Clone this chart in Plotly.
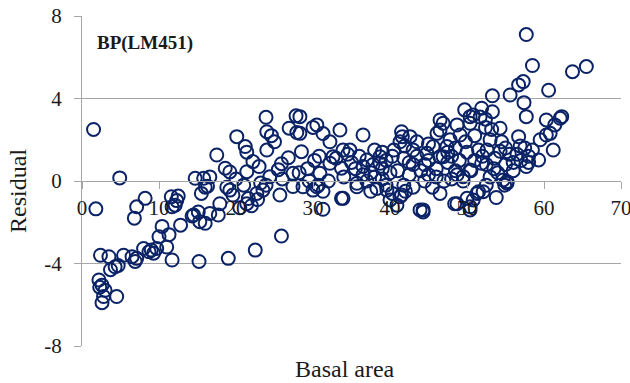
import plotly.graph_objects as go

basal_area = [
    1.5, 4.9, 1.8, 8.2, 7.1, 6.8, 11.6, 12.5, 12.1, 11.7, 12.3, 14.7, 14.3, 15.3, 12.8, 10.4, 10.0, 11.3, 9.7, 11.0,
    11.7, 2.4, 3.5, 5.4, 6.5, 7.1, 8.0, 8.7, 9.3, 4.3, 3.7, 2.2, 2.6, 3.0, 2.3, 2.6, 4.5, 15.2, 19.0, 22.5,
    25.9, 9.0, 6.9, 4.7, 2.8,
    15.8, 16.6, 16.3, 15.5, 16.0, 14.5, 15.1, 16.0, 16.6, 17.7, 17.9, 19.2, 19.6, 21.4, 21.6, 22.7, 22.8, 23.5, 23.9, 25.7,
    27.4, 23.2, 20.5, 22.0, 18.8, 21.0,
    23.9, 27.8, 24.0, 24.6, 26.9, 27.9, 30.0, 20.1, 21.2, 21.4, 22.2, 24.0, 17.5, 18.6, 19.2, 21.4, 28.5, 26.8, 25.9, 25.5,
    24.4, 27.4, 28.2, 29.3, 30.2, 23.0, 20.0, 26.0, 28.7, 25.0,
    30.0, 30.7, 31.3, 33.7, 35.7, 38.3, 40.0, 40.9, 41.5, 44.3, 28.3, 28.3, 30.5, 31.3, 33.5, 36.5, 32.2, 33.9, 34.5, 33.0,
    32.2, 30.8, 30.9, 33.7, 35.5, 37.0, 37.8, 38.7, 39.5, 40.3, 41.6, 41.9, 42.6, 41.5, 41.3, 41.8, 41.0, 40.0, 39.0, 38.0,
    37.0, 35.7, 36.5, 30.5, 31.3, 33.9, 39.6, 40.3, 41.3, 41.8, 43.9, 34.8, 32.6, 38.7, 34.0, 32.0, 29.5, 42.5, 43.0, 43.5,
    44.0, 44.8, 45.6, 44.5, 43.0, 42.0, 39.0, 36.0, 35.0, 38.0, 40.5, 39.5, 37.5, 43.5,
    44.3, 48.4, 50.4, 51.5, 52.1, 51.3, 50.8, 50.0, 50.4, 48.7, 54.9, 55.2, 49.5, 50.5, 48.5, 46.9, 45.0, 46.1, 46.9, 47.8,
    48.5, 50.4, 51.7, 52.4, 53.0, 51.5, 52.5, 54.7, 49.5, 47.0, 46.0, 45.5, 46.5, 49.7, 50.8, 51.9, 53.3, 52.4, 50.4, 46.5,
    46.5, 48.7, 49.1, 54.3, 53.2, 53.3, 55.6, 56.7, 57.3, 57.4, 57.7, 57.7, 58.5, 63.7, 65.5, 60.6, 60.3, 62.3, 61.4, 60.3,
    59.5, 61.2, 59.3, 57.7, 56.7, 56.9, 53.6, 54.3, 55.5, 52.6, 51.9, 50.4, 48.7, 46.5, 47.4, 45.0, 55.2, 56.0, 57.0, 58.5,
    58.0, 55.0, 54.0, 53.0, 56.5, 57.5, 60.8, 62.1, 58.0, 53.8, 52.5, 47.5, 49.8, 51.0, 48.0,
    36.5, 37.5, 39.0, 42.5, 44.5, 46.0, 47.5, 49.0, 50.0, 51.0, 52.0, 53.5, 55.0, 56.0, 45.0, 43.0, 48.0, 54.5,
]

residual = [
    2.5, 0.15, -1.35, -0.84, -1.25, -1.8, -0.76, -0.73, -1.17, -1.25, -0.95, 0.13, -1.7, -1.97, -2.14, -2.2, -2.7, -2.6, -3.27, -3.2,
    -3.83, -3.6, -3.67, -3.6, -3.67, -3.75, -3.27, -3.43, -3.5, -4.16, -4.3, -4.8, -5.05, -5.3, -5.15, -5.9, -5.6, -3.9, -3.75, -3.35,
    -2.67, -3.35, -3.9, -4.1, -5.6,
    0.13, 0.2, -0.25, -0.6, -0.3, -1.65, -1.5, -2.05, -1.57, -1.65, -1.1, -0.44, -0.68, -1.1, -0.85, -0.6, -0.9, -0.44, -0.2, -0.68,
    -0.27, -0.1, -1.3, -1.2, -0.3, -0.2,
    3.09, 3.16, 2.39, 2.2, 2.56, 2.35, 2.6, 2.15, 1.67, 1.4, 0.94, 1.5, 1.26, 0.62, 0.44, 0.45, 1.42, 1.13, 0.84, 0.55,
    0.21, 0.37, 0.4, 0.6, 1.0, 0.7, 0.1, 0.1, -0.28, 1.9,
    -0.44, -0.2, -1.37, -0.84, -0.28, -0.36, -0.92, -1.17, -0.68, -1.5, 3.12, 2.31, 2.72, 2.3, 2.47, 2.23, 1.9, 1.5, 1.3, 1.1,
    0.86, 1.2, 0.37, 0.62, 0.6, 1.02, 0.8, 1.18, 1.0, 1.2, 2.15, 1.7, 2.15, 2.39, 1.9, 1.1, 0.5, 0.4, 0.1, 0.2,
    0.0, -0.11, 0.3, -0.28, -0.5, -0.84, -0.44, -0.6, -0.76, -0.2, -1.4, 1.5, 1.18, 0.86, 0.2, 0.0, 0.0, 0.3, 0.8, 1.2,
    0.5, 1.34, 1.67, 0.0, -0.3, -0.5, 0.6, 1.2, 0.9, 1.5, 1.5, -0.2, -0.5, 1.9,
    -1.4, -1.1, -1.25, -0.52, -0.52, -0.6, -0.92, -0.84, -1.4, -1.1, -0.2, -0.03, 0.21, 0.5, 0.5, 1.18, 1.0, 2.31, 2.8, 2.0,
    1.6, 3.12, 3.1, 2.6, 2.0, 1.5, 0.8, 0.05, 0.0, 0.0, 0.2, -0.3, -0.6, 3.45, 3.2, 3.53, 3.36, 3.0, 2.8, 2.96,
    2.47, 2.72, 2.23, 2.56, 2.5, 4.13, 4.17, 4.66, 4.82, 3.8, 3.12, 7.1, 5.6, 5.3, 5.55, 4.4, 2.96, 3.12, 2.72, 2.23,
    2.0, 1.5, 1.02, 0.7, 2.15, 1.7, 1.1, 1.44, 1.3, 1.5, 0.86, 0.53, 0.3, 1.18, 1.67, 1.8, -0.11, 0.5, 1.0, 1.5,
    1.2, 0.8, 0.4, 0.2, 1.3, 1.6, 2.31, 3.04, 0.9, -0.8, -0.2, 0.9, 1.9, 2.2, 1.2,
    0.7, 0.4, 1.4, 0.9, 0.8, 0.6, 1.4, 1.0, 1.4, 1.0, 1.2, 0.6, 1.6, 0.9, 0.3, 1.5, 0.1, 1.9,
]

x_ticks = [0, 10, 20, 30, 40, 50, 60, 70]
y_ticks = [-8, -4, 0, 4, 8]
y_tick_text = ["-8", "-4", "0", "4", "8"]

SERIF = "Liberation Serif, Times New Roman, serif"
GRID = "#A6A6A6"
NAVY = "#0B2366"

fig = go.Figure()
fig.add_trace(go.Scatter(
    x=basal_area, y=residual, mode="markers",
    marker=dict(symbol="circle-open", size=13, color=NAVY, line=dict(width=2, color=NAVY)),
    cliponaxis=False, showlegend=False,
))

fig.update_layout(
    width=630, height=383,
    margin=dict(l=82, r=9, t=16, b=37),
    paper_bgcolor="white", plot_bgcolor="white",
    font=dict(family=SERIF, color="#1a1a1a"),
    xaxis=dict(
        range=[0, 70], tickvals=x_ticks, anchor="free", position=0.5, automargin=False,
        showline=True, linecolor=GRID, linewidth=1.3, showgrid=False, zeroline=False,
        ticks="outside", ticklen=7, tickcolor=GRID, tickwidth=1.3,
        tickfont=dict(family=SERIF, size=21, color="#1a1a1a"), ticklabelstandoff=1,
        ticklabeloverflow="allow",
    ),
    yaxis=dict(
        range=[-8, 8], tickvals=y_ticks, ticktext=y_tick_text, automargin=False,
        showline=True, linecolor=GRID, linewidth=1.3, showgrid=True, gridcolor=GRID, gridwidth=1.3,
        zeroline=False, ticks="outside", ticklen=7, tickcolor=GRID, tickwidth=1.3,
        tickfont=dict(family=SERIF, size=21, color="#1a1a1a"), ticklabelstandoff=8,
    ),
    annotations=[
        dict(text="Residual", xref="paper", yref="paper", x=-82/539 + 18/539, y=0.47,
             xanchor="center", yanchor="middle", textangle=-90, showarrow=False,
             font=dict(family=SERIF, size=24, color="#1a1a1a")),
        dict(text="Basal area", xref="paper", yref="paper", x=(345-82)/539, y=-(369-346)/330,
             xanchor="center", yanchor="middle", showarrow=False,
             font=dict(family=SERIF, size=24, color="#1a1a1a")),
        dict(text="<b>BP(LM451)</b>", xref="paper", yref="paper", x=(95-82)/539, y=(346-43)/330,
             xanchor="left", yanchor="middle", showarrow=False,
             font=dict(family=SERIF, size=19, color="#1a1a1a")),
    ],
)

fig.write_html("out.html")
